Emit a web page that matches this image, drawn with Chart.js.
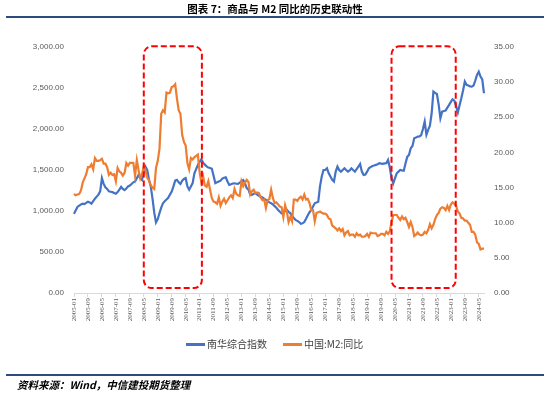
<!DOCTYPE html>
<html>
<head>
<meta charset="utf-8">
<script src="https://cdn.jsdelivr.net/npm/chart.js@4.4.1/dist/chart.umd.min.js"></script>
<style>
  html, body { margin: 0; padding: 0; background: #fff; }
  #wrap { position: relative; width: 550px; height: 396px; overflow: hidden; font-family: "Noto Sans CJK SC", sans-serif; }
  #chart { position: absolute; left: 0; top: 0; }
  .title { position: absolute; left: 0; top: 2px; width: 550px; text-align: center; font-size: 10.5px; font-weight: bold; color: #000; line-height: 14px; }
  .rule { position: absolute; left: 6px; width: 538px; height: 1.5px; background: #2b4a7e; }
  .source { position: absolute; left: 17px; top: 378px; font-size: 10.5px; font-weight: bold; font-style: italic; color: #000; line-height: 14px; }
  .legend { position: absolute; top: 337px; left: 186px; font-size: 10px; color: #404040; line-height: 14px; }
  .legend .item { position: absolute; top: 0; white-space: nowrap; }
  .legend .swatch { position: absolute; top: 6px; width: 19px; height: 2.5px; }
  .legend .text { position: absolute; top: 0; left: 21px; }
</style>
</head>
<body>
<div id="wrap">
  <canvas id="chart" width="550" height="396"></canvas>
  <div class="title">图表 7：商品与 M2 同比的历史联动性</div>
  <div class="rule" style="top:16px"></div>
  <div class="legend" id="legend"></div>
  <div class="rule" style="top:374px"></div>
  <div class="source">资料来源：Wind，中信建投期货整理</div>
</div>
<script>
// monthly, 2005-01 .. 2024-08
const startYear = 2005;
const monthCount = 236;
const months = [];
for (let i = 0; i < monthCount; i++) {
  const y = startYear + Math.floor(i / 12);
  const m = (i % 12) + 1;
  months.push(y + '-' + (m < 10 ? '0' + m : m));
}
const labelEvery = 8; // 2005-01, 2005-09, 2006-05 ...

const seriesNames = ['南华综合指数', '中国:M2:同比'];

// 南华综合指数 (left axis)
const nanhuaIndex = [
  965, 1010, 1050, 1065, 1080, 1090, 1085, 1100, 1114, 1105, 1090, 1120,
  1150, 1175, 1200, 1240, 1400, 1330, 1290, 1270, 1240, 1235, 1230, 1220,
  1210, 1230, 1260, 1295, 1270, 1255, 1275, 1300, 1310, 1330, 1350, 1360,
  1400, 1440, 1400, 1380, 1480, 1540, 1500, 1380, 1300, 1150, 980, 860,
  900, 975, 1040, 1095, 1120, 1140, 1160, 1200, 1236, 1300, 1370, 1380,
  1350, 1330, 1370, 1390, 1400, 1300, 1260, 1300, 1340, 1460, 1510, 1560,
  1600, 1630, 1590, 1565, 1545, 1530, 1525, 1515, 1430, 1340, 1350, 1360,
  1370, 1395, 1405, 1411, 1360, 1318, 1325, 1335, 1338, 1332, 1330, 1345,
  1365, 1378, 1340, 1280, 1260, 1200, 1196, 1210, 1216, 1200, 1185, 1175,
  1165, 1150, 1135, 1120, 1105, 1094, 1080, 1060, 1040, 1013, 990, 972,
  985, 1000, 1013, 990, 972, 940, 915, 891, 880, 865, 845, 850,
  865, 905, 948, 985, 1013, 1055, 1094, 1105, 1114, 1300, 1420, 1500,
  1500, 1521, 1460, 1420, 1380, 1360, 1480, 1541, 1500, 1480, 1500, 1521,
  1500, 1480, 1495, 1521, 1500, 1480, 1510, 1541, 1574, 1480, 1440, 1445,
  1480, 1521, 1535, 1549, 1555, 1562, 1570, 1582, 1578, 1574, 1580, 1582,
  1623, 1530, 1400, 1338, 1400, 1460, 1480, 1500, 1495, 1492, 1580, 1660,
  1684, 1765, 1793, 1887, 1895, 1907, 1910, 1927, 2000, 2090, 1930, 1990,
  2040, 2192, 2456, 2440, 2427, 2300, 2131, 2212, 2220, 2225, 2260, 2294,
  2330, 2363, 2347, 2280, 2200, 2290, 2375, 2470, 2578, 2538, 2530, 2520,
  2517, 2530, 2590, 2660, 2700, 2640, 2606, 2436
];

// 中国:M2:同比 (right axis, %)
const m2Yoy = [
  14.1, 13.9, 14.0, 14.1, 14.6, 15.7, 16.3, 16.9, 17.9, 17.9, 18.3, 17.6,
  19.2, 18.8, 18.8, 18.9, 19.1, 18.4, 18.4, 17.9, 16.8, 17.1, 16.8, 16.9,
  15.9, 17.8, 17.3, 17.1, 16.7, 17.1, 18.5, 18.1, 18.5, 18.5, 18.5, 16.7,
  18.9, 17.5, 16.3, 16.9, 18.1, 17.4, 16.4, 16.0, 15.3, 15.0, 14.8, 17.8,
  18.8, 20.5, 25.5, 26.0, 25.7, 28.5, 28.4, 28.5, 29.3, 29.4, 29.7, 27.7,
  26.0, 25.5, 22.5, 21.5, 21.0, 18.5, 17.6, 19.2, 19.0, 19.3, 19.5, 19.7,
  17.2, 15.7, 16.6, 15.3, 15.1, 15.9, 14.7, 13.5, 13.0, 12.9, 12.7, 13.6,
  12.4, 13.0, 13.4, 12.8, 13.2, 13.6, 13.9, 13.5, 14.8, 14.1, 13.9, 13.8,
  15.9, 15.2, 15.7, 16.1, 15.8, 14.0, 14.5, 14.7, 14.2, 14.3, 14.2, 13.6,
  13.2, 13.3, 12.1, 13.2, 13.4, 14.7, 13.5, 12.8, 12.9, 12.6, 12.3, 12.2,
  10.8, 12.5, 11.6, 10.1, 10.8, 10.2, 13.3, 13.3, 13.1, 13.5, 13.7, 13.3,
  14.0, 13.3, 13.4, 12.8, 11.8, 11.8, 10.2, 11.4, 11.5, 11.6, 11.4, 11.3,
  11.3, 11.1, 10.6, 10.5, 9.6, 9.4, 9.2, 8.9, 9.2, 8.8, 9.1, 8.2,
  8.6, 8.8, 8.2, 8.3, 8.3, 8.0, 8.5, 8.2, 8.3, 8.0, 8.0, 8.1,
  8.4, 8.0, 8.6, 8.5, 8.5, 8.5, 8.1, 8.2, 8.4, 8.4, 8.2, 8.7,
  8.4, 8.8, 10.1, 11.1, 11.1, 11.1, 10.7, 10.4, 10.9, 10.5, 10.7, 10.1,
  9.4, 10.1, 9.4, 8.1, 8.3, 8.6, 8.3, 8.2, 8.3, 8.7, 8.5, 9.0,
  9.8, 9.2, 9.7, 10.5, 11.1, 11.4, 12.0, 12.2, 12.1, 11.8, 12.4, 11.8,
  12.6, 12.9, 12.7, 12.4, 11.6, 11.3, 10.7, 10.6, 10.3, 10.3, 10.0, 9.7,
  8.7, 8.7, 8.3, 7.2, 7.0, 6.2, 6.3, 6.3
];

const colors = ['#4472C4', '#ED7D31'];

// red dashed highlight periods (category index range, left-axis value range)
const highlights = [
  { from: 40, to: 73.3 },
  { from: 182, to: 218.8 }
];
const highlightTop = 3008;
const highlightBottom = 60;

const highlightPlugin = {
  id: 'highlightBoxes',
  afterDatasetsDraw(chart) {
    const c = chart.ctx;
    const xs = chart.scales.x, ys = chart.scales.y;
    c.save();
    c.strokeStyle = '#FF0000';
    c.lineWidth = 2;
    c.setLineDash([6, 3]);
    highlights.forEach(h => {
      const x1 = xs.getPixelForValue(h.from);
      const x2 = xs.getPixelForValue(h.to);
      const y1 = ys.getPixelForValue(highlightTop);
      const y2 = ys.getPixelForValue(highlightBottom);
      c.beginPath();
      c.roundRect(x1, y1, x2 - x1, y2 - y1, 8);
      c.stroke();
    });
    c.restore();
  }
};

function fmtLeft(v) {
  return v.toLocaleString('en-US', { minimumFractionDigits: 2, maximumFractionDigits: 2 });
}

const tickFont = { family: 'Liberation Sans', size: 8 };

new Chart(document.getElementById('chart').getContext('2d'), {
  type: 'line',
  data: {
    labels: months,
    datasets: [
      { label: seriesNames[0], data: nanhuaIndex, yAxisID: 'y', borderColor: colors[0], backgroundColor: colors[0],
        borderWidth: 2.2, pointRadius: 0, tension: 0, order: 1 },
      { label: seriesNames[1], data: m2Yoy, yAxisID: 'y1', borderColor: colors[1], backgroundColor: colors[1],
        borderWidth: 2.2, pointRadius: 0, tension: 0, order: 0 }
    ]
  },
  options: {
    responsive: false,
    animation: false,
    layout: { padding: { top: 47, bottom: 58, left: 0, right: 0 } },
    plugins: { legend: { display: false }, tooltip: { enabled: false } },
    scales: {
      x: {
        grid: { display: true, drawOnChartArea: false, drawTicks: true, tickLength: 4, color: '#d9d9d9' },
        border: { color: '#d9d9d9' },
        ticks: {
          autoSkip: false, maxRotation: 90, minRotation: 90, padding: 1,
          font: { family: 'Liberation Serif', size: 7 }, color: '#595959',
          callback: (v, i) => (i % labelEvery === 0 ? months[i] : null)
        },
        afterFit: s => { s.height = 45; }
      },
      y: {
        position: 'left', min: 0, max: 3000,
        grid: { display: false, drawTicks: false },
        border: { display: false },
        ticks: { stepSize: 500, padding: 10, font: tickFont, color: '#595959', callback: v => fmtLeft(v) },
        afterFit: s => { s.width = 74; }
      },
      y1: {
        position: 'right', min: 0, max: 35,
        grid: { display: false, drawTicks: false },
        border: { display: false },
        ticks: { stepSize: 5, padding: 10, font: tickFont, color: '#595959', callback: v => v.toFixed(2) },
        afterFit: s => { s.width = 66; }
      }
    }
  },
  plugins: [highlightPlugin]
});

// legend
const legendEl = document.getElementById('legend');
const legendOffsets = [0, 97];
seriesNames.forEach((name, i) => {
  const item = document.createElement('div');
  item.className = 'item';
  item.style.left = legendOffsets[i] + 'px';
  item.innerHTML = '<span class="swatch" style="background:' + colors[i] + '"></span><span class="text">' + name + '</span>';
  legendEl.appendChild(item);
});
</script>
</body>
</html>
